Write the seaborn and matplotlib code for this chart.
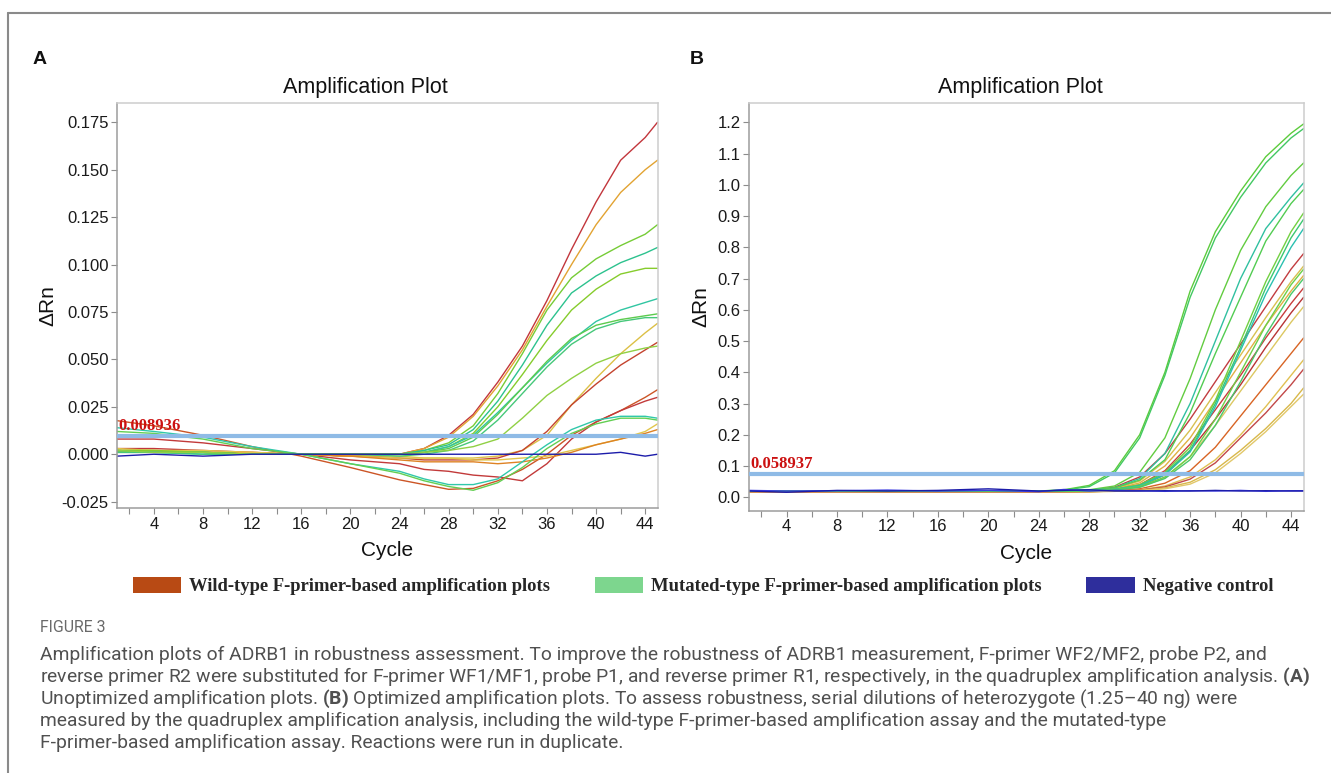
import matplotlib
matplotlib.use("Agg")
import matplotlib.pyplot as plt
import pandas as pd
import seaborn as sns
from matplotlib.patches import Patch
from matplotlib.lines import Line2D
from matplotlib.ticker import FormatStrFormatter

sns.set_theme(style="white")
plt.rcParams['font.family'] = ['Liberation Sans', 'DejaVu Sans']
plt.rcParams['axes.unicode_minus'] = False
plt.rcParams['mathtext.fontset'] = 'custom'
plt.rcParams['mathtext.rm'] = 'Roboto'
plt.rcParams['mathtext.bf'] = 'Roboto:bold'

# ---- data ----
cycles = [1, 4, 8, 12, 16, 20, 24, 26, 28, 30, 32, 34, 36, 38, 40, 42, 44, 45]

# panel A (unoptimized)
a_wt1 = [0.003, 0.003, 0.002, 0.001, 0.000, -0.001, 0.000, 0.003, 0.010, 0.021, 0.038, 0.057, 0.081, 0.108, 0.133, 0.155, 0.167, 0.175]
a_wt2 = [0.002, 0.002, 0.001, 0.001, 0.000, -0.001, 0.000, 0.003, 0.009, 0.020, 0.036, 0.055, 0.078, 0.100, 0.121, 0.138, 0.150, 0.155]
a_wt3 = [0.002, 0.002, 0.001, 0.000, 0.000, -0.001, -0.001, -0.002, -0.002, -0.002, -0.001, 0.002, 0.010, 0.026, 0.040, 0.053, 0.064, 0.069]
a_wt4 = [0.001, 0.001, 0.001, 0.000, 0.000, -0.001, -0.002, -0.003, -0.003, -0.003, -0.002, 0.002, 0.012, 0.026, 0.037, 0.047, 0.055, 0.059]
a_wt5 = [0.0177, 0.015, 0.010, 0.004, -0.001, -0.007, -0.0135, -0.016, -0.0185, -0.018, -0.014, -0.008, 0.000, 0.010, 0.017, 0.023, 0.030, 0.034]
a_wt6 = [0.008, 0.008, 0.006, 0.003, 0.000, -0.003, -0.005, -0.008, -0.009, -0.011, -0.012, -0.014, -0.005, 0.008, 0.017, 0.023, 0.028, 0.030]
a_wt7 = [0.003, 0.002, 0.002, 0.001, 0.000, -0.001, -0.002, -0.002, -0.002, -0.003, -0.003, -0.002, -0.001, 0.002, 0.005, 0.008, 0.012, 0.016]
a_wt8 = [0.001, 0.001, 0.001, 0.000, 0.000, -0.001, -0.003, -0.004, -0.004, -0.004, -0.005, -0.004, -0.002, 0.001, 0.005, 0.008, 0.011, 0.013]
a_mt1 = [0.002, 0.001, 0.001, 0.000, 0.000, 0.000, 0.000, 0.002, 0.006, 0.015, 0.032, 0.053, 0.076, 0.093, 0.103, 0.110, 0.116, 0.121]
a_mt2 = [0.001, 0.001, 0.001, 0.000, 0.000, 0.000, 0.000, 0.002, 0.005, 0.013, 0.028, 0.047, 0.068, 0.085, 0.094, 0.101, 0.106, 0.109]
a_mt3 = [0.002, 0.002, 0.001, 0.000, 0.000, 0.000, 0.000, 0.001, 0.004, 0.011, 0.025, 0.042, 0.060, 0.076, 0.087, 0.095, 0.098, 0.098]
a_mt4 = [0.001, 0.001, 0.000, 0.000, 0.000, 0.000, 0.000, 0.001, 0.004, 0.010, 0.022, 0.035, 0.048, 0.060, 0.070, 0.076, 0.080, 0.082]
a_mt5 = [0.002, 0.001, 0.001, 0.000, 0.000, 0.000, 0.000, 0.001, 0.003, 0.009, 0.021, 0.035, 0.049, 0.061, 0.068, 0.071, 0.073, 0.074]
a_mt6 = [0.001, 0.001, 0.000, 0.000, 0.000, 0.000, -0.001, 0.000, 0.002, 0.007, 0.018, 0.032, 0.046, 0.058, 0.066, 0.070, 0.072, 0.072]
a_mt7 = [0.002, 0.001, 0.001, 0.000, 0.000, 0.000, 0.000, 0.001, 0.002, 0.004, 0.008, 0.019, 0.031, 0.040, 0.048, 0.053, 0.056, 0.057]
a_mt8 = [0.014, 0.012, 0.009, 0.004, 0.000, -0.005, -0.009, -0.013, -0.016, -0.016, -0.013, -0.004, 0.005, 0.013, 0.018, 0.020, 0.020, 0.019]
a_mt9 = [0.012, 0.011, 0.008, 0.003, 0.000, -0.005, -0.010, -0.014, -0.017, -0.019, -0.015, -0.007, 0.003, 0.011, 0.016, 0.019, 0.019, 0.018]
a_neg = [-0.001, 0.000, -0.001, 0.000, 0.000, 0.000, 0.000, 0.000, 0.000, 0.000, 0.000, 0.000, 0.000, 0.000, 0.000, 0.001, -0.001, 0.000]
thr_a = 0.0095
thr_a_label = "0.008936"

# panel B (optimized)
b_wt1 = [0.018, 0.018, 0.018, 0.018, 0.018, 0.018, 0.018, 0.018, 0.022, 0.032, 0.065, 0.14, 0.25, 0.37, 0.49, 0.61, 0.73, 0.78]
b_wt2 = [0.018, 0.018, 0.018, 0.018, 0.018, 0.018, 0.018, 0.018, 0.020, 0.028, 0.052, 0.115, 0.215, 0.335, 0.455, 0.575, 0.69, 0.74]
b_wt3 = [0.018, 0.018, 0.018, 0.018, 0.018, 0.018, 0.018, 0.018, 0.020, 0.026, 0.046, 0.10, 0.19, 0.31, 0.43, 0.55, 0.66, 0.71]
b_wt4 = [0.016, 0.016, 0.016, 0.016, 0.016, 0.016, 0.016, 0.017, 0.019, 0.024, 0.040, 0.085, 0.17, 0.28, 0.39, 0.51, 0.62, 0.67]
b_wt5 = [0.016, 0.016, 0.016, 0.016, 0.016, 0.016, 0.016, 0.017, 0.019, 0.023, 0.036, 0.072, 0.15, 0.25, 0.36, 0.48, 0.59, 0.64]
b_wt6 = [0.018, 0.018, 0.018, 0.018, 0.018, 0.018, 0.018, 0.018, 0.018, 0.022, 0.032, 0.062, 0.13, 0.23, 0.34, 0.45, 0.56, 0.61]
b_wt7 = [0.016, 0.016, 0.016, 0.016, 0.016, 0.016, 0.016, 0.017, 0.018, 0.020, 0.027, 0.045, 0.085, 0.16, 0.26, 0.36, 0.46, 0.51]
b_wt8 = [0.018, 0.018, 0.018, 0.018, 0.018, 0.018, 0.018, 0.018, 0.018, 0.020, 0.024, 0.036, 0.065, 0.12, 0.20, 0.29, 0.39, 0.44]
b_wt9 = [0.016, 0.016, 0.016, 0.016, 0.016, 0.016, 0.016, 0.017, 0.018, 0.020, 0.023, 0.033, 0.058, 0.11, 0.19, 0.27, 0.36, 0.41]
b_wt10 = [0.018, 0.018, 0.018, 0.018, 0.018, 0.018, 0.018, 0.018, 0.018, 0.019, 0.022, 0.030, 0.048, 0.088, 0.15, 0.22, 0.30, 0.35]
b_wt11 = [0.018, 0.018, 0.018, 0.018, 0.018, 0.018, 0.018, 0.018, 0.018, 0.019, 0.021, 0.027, 0.042, 0.078, 0.14, 0.21, 0.29, 0.33]
b_mt1 = [0.020, 0.020, 0.020, 0.020, 0.020, 0.020, 0.020, 0.024, 0.038, 0.085, 0.20, 0.40, 0.66, 0.85, 0.98, 1.09, 1.165, 1.195]
b_mt2 = [0.020, 0.020, 0.020, 0.020, 0.020, 0.020, 0.020, 0.023, 0.034, 0.078, 0.19, 0.39, 0.64, 0.83, 0.96, 1.07, 1.15, 1.18]
b_mt3 = [0.020, 0.020, 0.020, 0.020, 0.020, 0.020, 0.020, 0.021, 0.024, 0.036, 0.080, 0.19, 0.38, 0.60, 0.79, 0.93, 1.03, 1.07]
b_mt4 = [0.020, 0.020, 0.020, 0.020, 0.020, 0.020, 0.020, 0.021, 0.023, 0.030, 0.060, 0.14, 0.30, 0.50, 0.70, 0.86, 0.96, 1.006]
b_mt5 = [0.020, 0.020, 0.020, 0.020, 0.020, 0.020, 0.020, 0.021, 0.022, 0.030, 0.055, 0.12, 0.27, 0.46, 0.64, 0.82, 0.94, 0.985]
b_mt6 = [0.020, 0.020, 0.020, 0.020, 0.020, 0.020, 0.020, 0.021, 0.022, 0.026, 0.040, 0.080, 0.16, 0.31, 0.50, 0.69, 0.85, 0.91]
b_mt7 = [0.020, 0.020, 0.020, 0.020, 0.020, 0.020, 0.020, 0.021, 0.022, 0.025, 0.038, 0.076, 0.15, 0.30, 0.48, 0.67, 0.83, 0.89]
b_mt8 = [0.020, 0.020, 0.020, 0.020, 0.020, 0.020, 0.020, 0.021, 0.022, 0.025, 0.036, 0.072, 0.145, 0.29, 0.47, 0.65, 0.80, 0.86]
b_mt9 = [0.020, 0.020, 0.020, 0.020, 0.020, 0.020, 0.020, 0.020, 0.021, 0.024, 0.034, 0.065, 0.13, 0.25, 0.40, 0.55, 0.68, 0.73]
b_mt10 = [0.020, 0.020, 0.020, 0.020, 0.020, 0.020, 0.020, 0.020, 0.021, 0.023, 0.032, 0.060, 0.12, 0.23, 0.37, 0.52, 0.65, 0.70]
b_neg1 = [0.020, 0.016, 0.022, 0.020, 0.022, 0.027, 0.020, 0.022, 0.024, 0.020, 0.020, 0.021, 0.020, 0.022, 0.020, 0.021, 0.020, 0.020]
b_neg2 = [0.022, 0.020, 0.021, 0.023, 0.020, 0.022, 0.018, 0.025, 0.020, 0.022, 0.021, 0.019, 0.021, 0.020, 0.022, 0.019, 0.021, 0.021]
thr_b = 0.074
thr_b_label = "0.058937"

legend_labels = ["Wild-type F-primer-based amplification plots",
                 "Mutated-type F-primer-based amplification plots",
                 "Negative control"]
legend_colors = ["#b84a14", "#7dd68e", "#2e2e9c"]

curves_a = {
    "wt1": (a_wt1, "#c2363c"), "wt2": (a_wt2, "#e2a332"), "wt3": (a_wt3, "#dcc046"),
    "wt4": (a_wt4, "#c4432e"), "wt5": (a_wt5, "#cc5526"), "wt6": (a_wt6, "#c23a3a"),
    "wt7": (a_wt7, "#e2c64c"), "wt8": (a_wt8, "#de8224"),
    "mt1": (a_mt1, "#76cc36"), "mt2": (a_mt2, "#2cc28e"), "mt3": (a_mt3, "#86cc2c"),
    "mt4": (a_mt4, "#30c6a2"), "mt5": (a_mt5, "#5ccb4e"), "mt6": (a_mt6, "#46c87a"),
    "mt7": (a_mt7, "#90d044"), "mt8": (a_mt8, "#30c8aa"), "mt9": (a_mt9, "#62cf52"),
    "neg": (a_neg, "#1c1caa"),
}
curves_b = {
    "wt1": (b_wt1, "#c23c40"), "wt2": (b_wt2, "#d8c050"), "wt3": (b_wt3, "#e0b044"),
    "wt4": (b_wt4, "#c83c3c"), "wt5": (b_wt5, "#b83434"), "wt6": (b_wt6, "#dcc862"),
    "wt7": (b_wt7, "#d86424"), "wt8": (b_wt8, "#e0c052"), "wt9": (b_wt9, "#c24848"),
    "wt10": (b_wt10, "#d8b84a"), "wt11": (b_wt11, "#e2c86a"),
    "mt1": (b_mt1, "#5ccc3c"), "mt2": (b_mt2, "#42c862"), "mt3": (b_mt3, "#62cc40"),
    "mt4": (b_mt4, "#30c0a0"), "mt5": (b_mt5, "#52cc52"), "mt6": (b_mt6, "#72d042"),
    "mt7": (b_mt7, "#3cc872"), "mt8": (b_mt8, "#2ac0b0"), "mt9": (b_mt9, "#6cd048"),
    "mt10": (b_mt10, "#4ac86a"),
    "neg2": (b_neg2, "#3c3ce0"), "neg1": (b_neg1, "#1c1caa"),
}


def to_frame(curves):
    rows = []
    for well, (vals, _) in curves.items():
        for c, v in zip(cycles, vals):
            rows.append((c, v, well))
    return pd.DataFrame(rows, columns=["Cycle", "dRn", "well"])


W, H = 1331, 773
fig = plt.figure(figsize=(W / 100, H / 100), dpi=100)
ax_a = fig.add_axes([117 / W, 1 - 508.3 / H, 540.5 / W, 405 / H])
ax_b = fig.add_axes([748.8 / W, 1 - 510.7 / H, 554.8 / W, 407.4 / H])

panels = [
    (ax_a, curves_a, thr_a, thr_a_label, (-0.0285, 0.185), [x / 1000 for x in range(-25, 176, 25)], "%.3f", 0.459, 3),
    (ax_b, curves_b, thr_b, thr_b_label, (-0.043, 1.261), [x / 10 for x in range(0, 13)], "%.1f", 0.489, 5),
]

for ax, curves, thr, thr_lab, ylim, yticks, fmt, title_x, ypad in panels:
    df = to_frame(curves)
    pal = {k: c for k, (_, c) in curves.items()}
    sns.lineplot(data=df, x="Cycle", y="dRn", hue="well", palette=pal, legend=False,
                 estimator=None, sort=False, linewidth=1.0, ax=ax)
    ax.axhline(thr, color="#8fbbe6", lw=3.0, zorder=5)
    ax.annotate(thr_lab, xy=(0.002, thr), xycoords=("axes fraction", "data"),
                xytext=(0, 1.5), textcoords="offset points", va="bottom", ha="left",
                color="#cc1111", fontsize=12, fontweight="bold", family="Liberation Serif", zorder=6)
    ax.set_xlim(1, 45)
    ax.set_ylim(*ylim)
    ax.set_xticks(range(4, 45, 4))
    ax.set_xticks(range(2, 45, 2), minor=True)
    ax.set_yticks(yticks)
    ax.yaxis.set_major_formatter(FormatStrFormatter(fmt))
    ax.tick_params(axis="both", which="both", bottom=True, left=True, direction="out",
                   length=4, width=0.8, color="#8c8c8c", labelsize=12, pad=2, labelcolor="#1a1a1a")
    for s in ["top", "right"]:
        ax.spines[s].set_color("#cdcdcd")
    for s in ["left", "bottom"]:
        ax.spines[s].set_color("#9c9c9c")
    for s in ax.spines.values():
        s.set_linewidth(1.1)
    ax.set_xlabel("Cycle", fontsize=15, labelpad=7, color="#111111")
    ax.set_ylabel("ΔRn", fontsize=15, labelpad=ypad, color="#111111")
    ax.text(title_x, 1.040, "Amplification Plot", transform=ax.transAxes, ha="center", va="center",
            fontsize=15.5, color="#111111")

# panel letters
fig.text(33 / W, 1 - 60 / H, "A", fontsize=14, fontweight="bold", va="center", color="#111111")
fig.text(690 / W, 1 - 60 / H, "B", fontsize=14, fontweight="bold", va="center", color="#111111")

# shared legend
handles = [Patch(facecolor=c, edgecolor="none") for c in legend_colors]
fig.legend(handles, legend_labels, loc="center", bbox_to_anchor=(703 / W, 1 - 586 / H), ncol=3,
           frameon=False, prop={"family": "Liberation Serif", "weight": "bold", "size": 13.4},
           handlelength=2.6, handleheight=1.0, handletextpad=0.43, columnspacing=2.4)

# border of the figure box
fig.add_artist(Line2D([8 / W, 1], [1 - 13 / H, 1 - 13 / H], color="#8a8a8a", lw=1.5))
fig.add_artist(Line2D([8 / W, 8 / W], [0, 1 - 13 / H], color="#8a8a8a", lw=1.5))

# caption
cap_font = dict(family="Roboto", fontsize=13.85, color="#505050", va="center")
fig.text(40 / W, 1 - 628 / H, "FIGURE 3", family="Roboto", fontsize=11.4, color="#6a6a6a", va="center")
caption = [
    "Amplification plots of ADRB1 in robustness assessment. To improve the robustness of ADRB1 measurement, F-primer WF2/MF2, probe P2, and",
    "reverse primer R2 were substituted for F-primer WF1/MF1, probe P1, and reverse primer R1, respectively, in the quadruplex amplification analysis. $\\bf{(A)}$",
    "Unoptimized amplification plots. $\\bf{(B)}$ Optimized amplification plots. To assess robustness, serial dilutions of heterozygote (1.25–40 ng) were",
    "measured by the quadruplex amplification analysis, including the wild-type F-primer-based amplification assay and the mutated-type",
    "F-primer-based amplification assay. Reactions were run in duplicate.",
]
for i, line in enumerate(caption):
    fig.text(40 / W, 1 - (655 + 22 * i) / H, line, **cap_font)

fig.savefig("out.png", dpi=100)
